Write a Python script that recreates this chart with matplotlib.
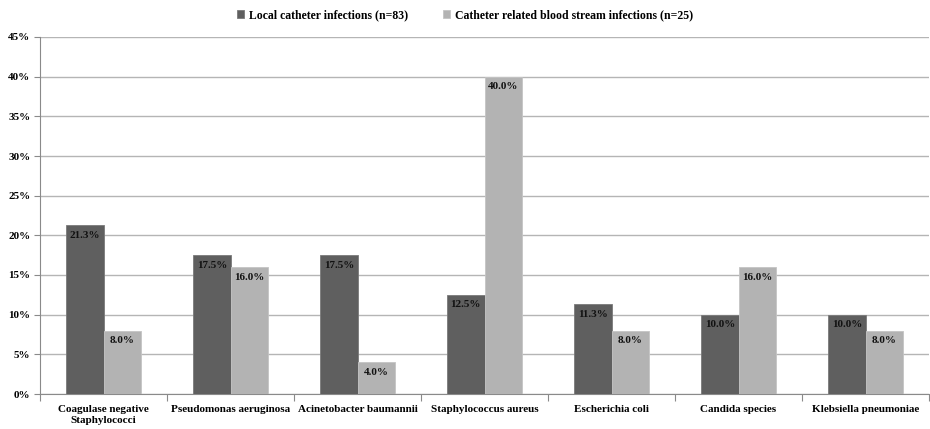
import matplotlib
matplotlib.use("Agg")
import matplotlib.pyplot as plt
import numpy as np

categories = ["Coagulase negative\nStaphylococci", "Pseudomonas aeruginosa",
              "Acinetobacter baumannii", "Staphylococcus aureus",
              "Escherichia coli", "Candida species", "Klebsiella pneumoniae"]
local_vals = [21.3, 17.5, 17.5, 12.5, 11.3, 10.0, 10.0]
crbsi_vals = [8.0, 16.0, 4.0, 40.0, 8.0, 16.0, 8.0]
series_names = ["Local catheter infections (n=83)",
                "Catheter related blood stream infections (n=25)"]
yticks = [0, 5, 10, 15, 20, 25, 30, 35, 40, 45]

plt.rcParams["font.family"] = ["Liberation Serif", "DejaVu Serif"]
plt.rcParams["font.weight"] = "bold"

fig = plt.figure(figsize=(9.3, 4.29), dpi=100)
ax = fig.add_axes([40 / 930, 1 - 394 / 429, 889 / 930, 357 / 429])

x = np.arange(len(categories))
w = 0.295
dark, light = "#5f5f5f", "#b3b3b3"
b1 = ax.bar(x - w / 2, local_vals, w, color=dark, edgecolor="#7a7a7a", linewidth=0.6,
            label=series_names[0], zorder=3)
b2 = ax.bar(x + w / 2, crbsi_vals, w, color=light, edgecolor="#c4c4c4", linewidth=0.6,
            label=series_names[1], zorder=3)

for bars, vals in ((b1, local_vals), (b2, crbsi_vals)):
    for rect, v in zip(bars, vals):
        ax.annotate(f"{v:.1f}%", (rect.get_x() + rect.get_width() / 2, v),
                    xytext=(0, -4), textcoords="offset points",
                    ha="center", va="top", fontsize=8, fontweight="bold",
                    color="#111111", zorder=4)

ax.set_xlim(-0.5, len(categories) - 0.5)
ax.set_ylim(0, 45)
ax.set_yticks(yticks)
ax.set_yticklabels([f"{t}%" for t in yticks], fontsize=8, fontweight="bold")
ax.yaxis.grid(True, color="#b5b5b5", linewidth=1.0, zorder=0)
ax.set_axisbelow(True)

ax.set_xticks(x)
ax.set_xticklabels(categories, fontsize=8, fontweight="bold")
ax.set_xticks(np.arange(len(categories) + 1) - 0.5, minor=True)
ax.tick_params(axis="x", which="major", length=0, pad=8)
ax.tick_params(axis="x", which="minor", length=5, color="#8a8a8a", width=0.8)
ax.tick_params(axis="y", length=4, color="#8a8a8a", width=0.8, pad=3)

for s in ("top", "right"):
    ax.spines[s].set_visible(False)
for s in ("left", "bottom"):
    ax.spines[s].set_color("#8a8a8a")
    ax.spines[s].set_linewidth(0.8)

fig.legend(handles=[b1, b2], loc="center", bbox_to_anchor=(0.5, 1 - 15 / 429),
           ncol=2, frameon=False, fontsize=8.5, handlelength=0.6, handleheight=0.6,
           columnspacing=3.0, handletextpad=0.4,
           prop={"weight": "bold", "size": 8.5})

fig.savefig("out.png", dpi=100)
